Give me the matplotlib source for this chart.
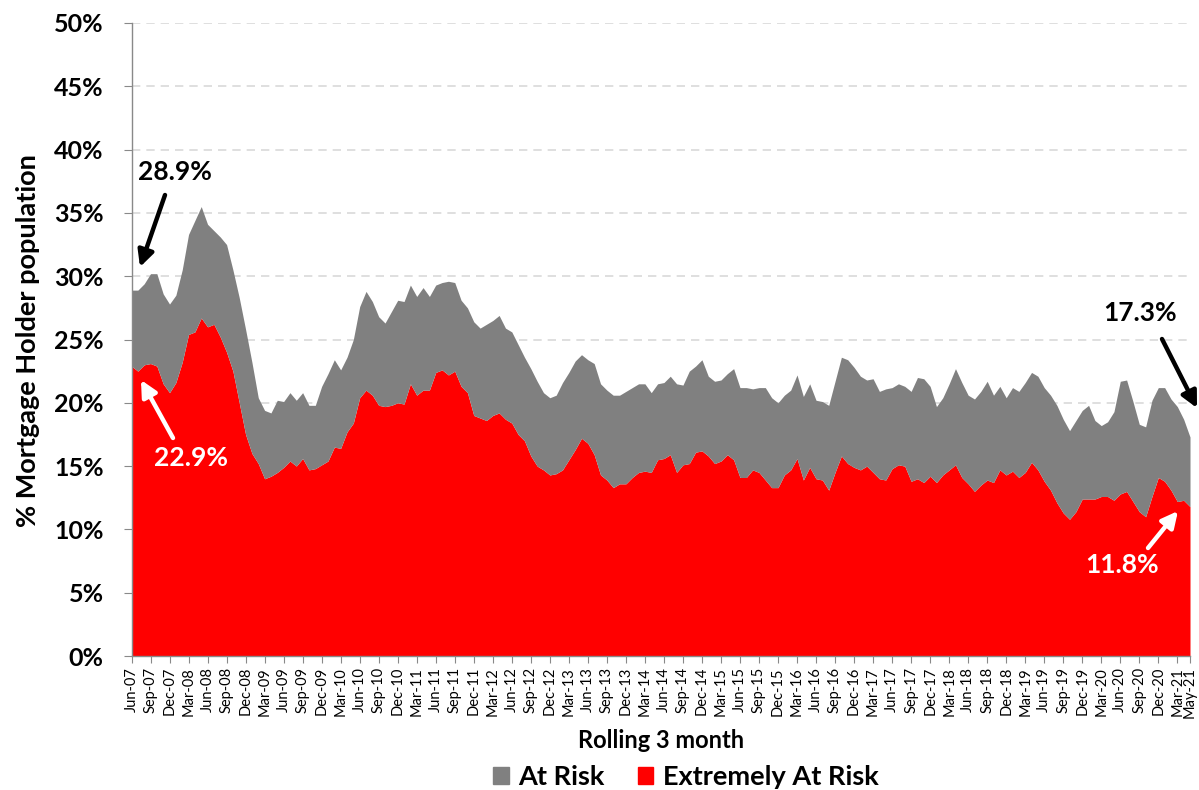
import matplotlib
matplotlib.use("Agg")
import matplotlib.pyplot as plt
from matplotlib.patches import Patch
import numpy as np
import pandas as pd

# ---- data -------------------------------------------------------------
months = pd.date_range("2007-06-01", periods=168, freq="MS").strftime("%b-%y").tolist()
tick_idx = list(range(0, 166, 3)) + [167]
tick_labels = [months[i] for i in tick_idx]

# top of the stacked area (At Risk incl. Extremely At Risk), % of mortgage holders
at_risk_top = [
    28.9, 28.9, 29.4, 30.2, 30.2, 28.6, 27.8, 28.5, 30.5, 33.3,
    34.4, 35.5, 34.1, 33.6, 33.1, 32.5, 30.5, 28.3, 25.8, 23.2,
    20.4, 19.4, 19.2, 20.2, 20.1, 20.8, 20.2, 20.8, 19.8, 19.8,
    21.3, 22.3, 23.4, 22.6, 23.6, 25.0, 27.6, 28.8, 28.0, 26.8,
    26.3, 27.2, 28.1, 28.0, 29.3, 28.4, 29.1, 28.4, 29.3, 29.5,
    29.6, 29.5, 28.1, 27.5, 26.4, 25.9, 26.2, 26.5, 26.9, 25.9,
    25.6, 24.6, 23.6, 22.7, 21.7, 20.8, 20.4, 20.6, 21.6, 22.4,
    23.3, 23.8, 23.4, 23.1, 21.5, 21.0, 20.6, 20.6, 20.9, 21.2,
    21.5, 21.5, 20.8, 21.5, 21.6, 22.1, 21.5, 21.4, 22.5, 22.9,
    23.4, 22.1, 21.7, 21.8, 22.3, 22.7, 21.2, 21.2, 21.1, 21.2,
    21.2, 20.4, 20.0, 20.6, 21.0, 22.2, 20.5, 21.5, 20.2, 20.1,
    19.8, 21.7, 23.6, 23.4, 22.8, 22.1, 21.8, 21.9, 20.9, 21.1,
    21.2, 21.5, 21.3, 20.9, 22.0, 21.9, 21.3, 19.7, 20.4, 21.5,
    22.7, 21.6, 20.6, 20.3, 20.9, 21.7, 20.6, 21.3, 20.4, 21.2,
    20.9, 21.6, 22.4, 22.1, 21.2, 20.6, 19.8, 18.7, 17.8, 18.6,
    19.4, 19.8, 18.6, 18.2, 18.5, 19.3, 21.7, 21.8, 20.1, 18.3,
    18.1, 20.2, 21.2, 21.2, 20.3, 19.7, 18.7, 17.3,
]

extremely_at_risk = [
    22.9, 22.5, 23.0, 23.1, 22.9, 21.5, 20.8, 21.6, 23.2, 25.4,
    25.6, 26.7, 26.0, 26.2, 25.2, 24.0, 22.5, 20.0, 17.5, 16.0,
    15.2, 14.0, 14.2, 14.5, 14.9, 15.4, 15.0, 15.6, 14.7, 14.8,
    15.1, 15.4, 16.5, 16.4, 17.7, 18.4, 20.4, 21.0, 20.6, 19.8,
    19.7, 19.8, 20.0, 19.9, 21.5, 20.6, 21.0, 21.0, 22.4, 22.6,
    22.2, 22.5, 21.3, 20.8, 19.0, 18.8, 18.6, 19.0, 19.2, 18.7,
    18.4, 17.5, 17.0, 15.8, 15.0, 14.7, 14.3, 14.4, 14.7, 15.5,
    16.3, 17.2, 16.8, 15.9, 14.3, 13.9, 13.3, 13.6, 13.6, 14.1,
    14.5, 14.6, 14.5, 15.5, 15.6, 15.9, 14.5, 15.1, 15.2, 16.1,
    16.2, 15.8, 15.2, 15.4, 15.9, 15.5, 14.1, 14.1, 14.7, 14.5,
    13.9, 13.3, 13.3, 14.3, 14.7, 15.6, 13.9, 14.9, 14.0, 13.9,
    13.1, 14.5, 15.8, 15.2, 14.9, 14.7, 15.0, 14.5, 14.0, 13.9,
    14.8, 15.1, 15.0, 13.8, 14.0, 13.7, 14.2, 13.7, 14.3, 14.7,
    15.1, 14.1, 13.6, 13.0, 13.5, 13.9, 13.7, 14.7, 14.3, 14.6,
    14.1, 14.5, 15.3, 14.7, 13.8, 13.1, 12.1, 11.3, 10.8, 11.4,
    12.4, 12.4, 12.4, 12.6, 12.6, 12.3, 12.8, 13.0, 12.2, 11.4,
    11.0, 12.6, 14.1, 13.8, 13.1, 12.2, 12.3, 11.8,
]

y_ticks = list(range(0, 51, 5))
y_tick_labels = [f"{v}%" for v in y_ticks]

series_names = ["At Risk", "Extremely At Risk"]
colors = {"At Risk": "#808080", "Extremely At Risk": "#FF0000"}

# ---- figure -----------------------------------------------------------
plt.rcParams["font.family"] = ["Lato", "DejaVu Sans"]
W, H = 1199, 790
fig = plt.figure(figsize=(W / 100, H / 100), dpi=100)
L, R, T, B = 131.5, 1190, 23, 656
ax = fig.add_axes([L / W, 1 - B / H, (R - L) / W, (B - T) / H])

x = np.arange(len(months))
ax.fill_between(x, 0, extremely_at_risk, color=colors["Extremely At Risk"], lw=0, zorder=3)
ax.fill_between(x, extremely_at_risk, at_risk_top, color=colors["At Risk"], lw=0, zorder=3)

ax.set_xlim(0, len(months) - 1)
ax.set_ylim(0, 50)

ax.set_yticks(y_ticks)
ax.set_yticklabels(y_tick_labels, fontsize=18, fontweight="bold")
ax.set_xticks(tick_idx)
ax.set_xticklabels(tick_labels, rotation=90, fontsize=10.5)

ax.yaxis.grid(True, color="#d9d9d9", linestyle=(0, (5, 3.6)), lw=1.2, zorder=0)
ax.set_axisbelow(True)

for s in ["top", "right"]:
    ax.spines[s].set_visible(False)
for s in ["left", "bottom"]:
    ax.spines[s].set_color("#898989")
    ax.spines[s].set_linewidth(1.0)
    ax.spines[s].set_zorder(4)
ax.tick_params(axis="y", length=6, color="#898989", pad=14)
ax.tick_params(axis="x", length=5, color="#898989", pad=3)

# ---- annotations ------------------------------------------------------
def px2d(px, py):
    return ((px - L) / (R - L) * (len(months) - 1), (B - py) / (B - T) * 50)

arrow_kw = dict(arrowstyle="-|>", lw=3.2, mutation_scale=24, shrinkA=0, shrinkB=0)

ax.annotate("", xy=px2d(140, 267), xytext=px2d(165, 195),
            arrowprops=dict(color="black", **arrow_kw), annotation_clip=False, zorder=6)
ax.text(*px2d(174.5, 172), "28.9%", fontsize=19, fontweight="bold",
        ha="center", va="center", color="black", zorder=6)

ax.annotate("", xy=px2d(141, 380), xytext=px2d(173, 438),
            arrowprops=dict(color="white", **arrow_kw), annotation_clip=False, zorder=6)
ax.text(*px2d(191, 458), "22.9%", fontsize=19, fontweight="bold",
        ha="center", va="center", color="white", zorder=6)

ax.annotate("", xy=px2d(1197, 408), xytext=px2d(1162, 339),
            arrowprops=dict(color="black", **arrow_kw), annotation_clip=False, zorder=6)
ax.text(*px2d(1140, 313), "17.3%", fontsize=19, fontweight="bold",
        ha="center", va="center", color="black", zorder=6)

ax.annotate("", xy=px2d(1178, 511), xytext=px2d(1148, 548),
            arrowprops=dict(color="white", **arrow_kw), annotation_clip=False, zorder=6)
ax.text(*px2d(1122, 565), "11.8%", fontsize=19, fontweight="bold",
        ha="center", va="center", color="white", zorder=6)

# ---- axis titles & legend ---------------------------------------------
fig.text((L + R) / 2 / W, 1 - 740 / H, "Rolling 3 month", fontsize=17,
         fontweight="bold", ha="center", va="center")
fig.text(28 / W, 1 - 341 / H, "% Mortgage Holder population", fontsize=19.5,
         fontweight="bold", ha="center", va="center", rotation=90)

handles = [Patch(color=colors[n], label=n) for n in series_names]
fig.legend(handles=handles, loc="center", bbox_to_anchor=(686 / W, 1 - 777 / H),
           ncol=2, frameon=False, prop=dict(weight="bold", size=19.5),
           handlelength=0.56, handleheight=0.56, handletextpad=0.35,
           columnspacing=1.25, borderpad=0, borderaxespad=0)

fig.savefig("out.png", dpi=100)
